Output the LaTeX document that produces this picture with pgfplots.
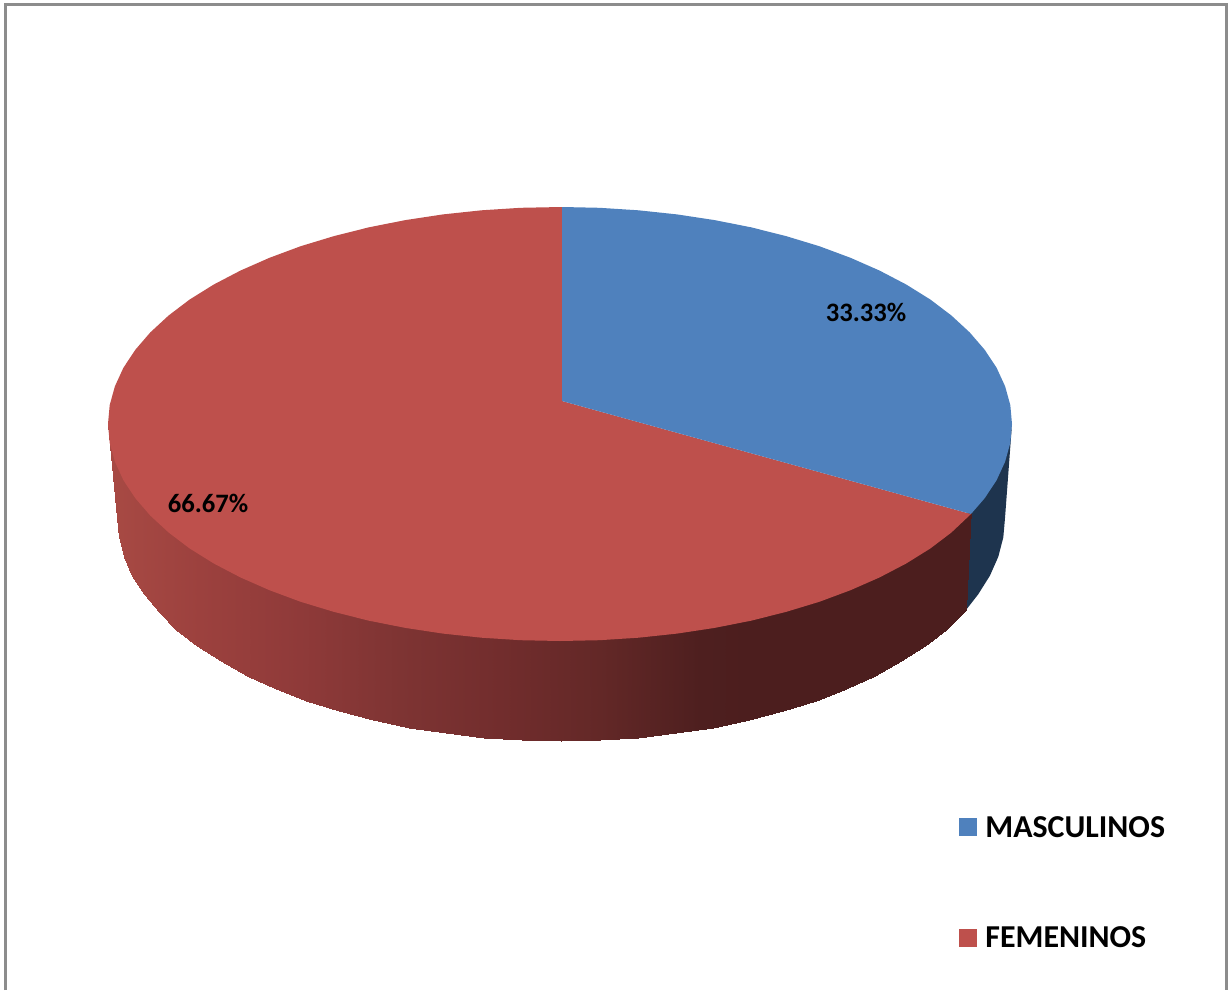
\documentclass[border=0pt]{standalone}
\usepackage{pgfplots}
\pgfplotsset{compat=1.18}
\usepackage{fontspec}
\setmainfont{Carlito}
\definecolor{blueT}{RGB}{79,129,189}
\definecolor{redT}{RGB}{190,80,76}
\definecolor{blueS}{RGB}{30,52,78}
\definecolor{frameC}{RGB}{140,140,140}
\begin{document}
\begin{tikzpicture}
\useasboundingbox (0,0) rectangle (615pt,495pt);
\begin{axis}[at={(0,0)},anchor=south west,scale only axis,width=615pt,height=495pt,
  xmin=0,xmax=1230,ymin=0,ymax=990,y dir=reverse,hide axis,clip=true,
  colormap={side}{rgb255(108)=(168,74,68) rgb255(200)=(156,65,62) rgb255(300)=(143,58,57) rgb255(400)=(126,52,51) rgb255(500)=(114,45,45) rgb255(600)=(99,40,39) rgb255(700)=(78,31,31) rgb255(750)=(76,30,30) rgb255(971)=(76,30,30)},
  point meta min=108,point meta max=971]
% side of the blue slice
\addplot[fill=blueS,draw=none] coordinates {(1012,424)(1010.3,436.9)(1005.1,455.7)(996.6,474.2)(984.7,492.2)(971,508)(966,610)(978.2,594.3)(989.9,575.7)(998.3,556.7)(1003.3,537.4)(1005,518)};
% side of the red slice: colour follows x; the upper row runs under the top face
\addplot[surf,shader=interp,mesh/rows=2,mesh/ordering=colwise,point meta=x] coordinates {
(971,508)(966,610)
(951.4,526.5)(945.5,629.5)
(930.3,542.5)(924.7,645.9)
(906.2,557.5)(901.1,661.3)
(879.6,571.4)(875,675.7)
(850.5,584.2)(846.4,688.8)
(819.3,595.8)(815.7,700.7)
(786,605.9)(783,711.1)
(751,614.7)(748.6,720.1)
(714.6,621.9)(712.8,727.6)
(677,627.6)(675.9,733.4)
(638.5,631.7)(638.1,737.6)
(599.4,634.2)(599.7,740.2)
(560,635)(561,741)
(520.6,634.2)(522.3,740.2)
(481.5,631.7)(483.9,737.6)
(443,627.6)(446.1,733.4)
(405.4,621.9)(409.2,727.6)
(369,614.7)(373.4,720.1)
(334,605.9)(339,711.1)
(300.7,595.8)(306.3,700.7)
(269.5,584.2)(275.6,688.8)
(240.4,571.4)(247,675.7)
(213.8,557.5)(220.9,661.3)
(189.7,542.5)(197.3,645.9)
(168.6,526.5)(176.5,629.5)
(150.4,509.7)(158.6,612.2)
(135.3,492.2)(143.8,594.3)
(123.4,474.2)(132.1,575.7)
(114.9,455.7)(123.7,556.7)
(109.7,436.9)(118.7,537.4)
(108,424)(117,518)
};
% top face, red
\addplot[fill=redT,draw=none] coordinates {(562,401)(971,514)(951.4,532.5)(930.3,548.5)(906.2,563.5)(879.6,577.4)(850.5,590.2)(819.3,601.8)(786,611.9)(751,620.7)(714.6,627.9)(677,633.6)(638.5,637.7)(599.4,640.2)(560,641)(520.6,640.2)(481.5,637.7)(443,633.6)(405.4,627.9)(369,620.7)(334,611.9)(300.7,601.8)(269.5,590.2)(240.4,577.4)(213.8,563.5)(189.7,548.5)(168.6,532.5)(150.4,515.7)(135.3,498.2)(123.4,480.2)(114.9,461.7)(109.7,442.9)(108,424)(109.7,405.1)(114.9,386.3)(123.4,367.8)(135.3,349.8)(150.4,332.3)(168.6,315.5)(189.7,299.5)(213.8,284.5)(240.4,270.6)(269.5,257.8)(300.7,246.2)(334,236.1)(369,227.3)(405.4,220.1)(443,214.4)(481.5,210.3)(520.6,207.8)(562,207)};
% top face, blue
\addplot[fill=blueT,draw=none] coordinates {(562,401)(562,207)(599.4,207.8)(638.5,210.3)(677,214.4)(714.6,220.1)(751,227.3)(786,236.1)(819.3,246.2)(850.5,257.8)(879.6,270.6)(906.2,284.5)(930.3,299.5)(951.4,315.5)(969.6,332.3)(984.7,349.8)(996.6,367.8)(1005.1,386.3)(1010.3,405.1)(1012,424)(1010.3,442.9)(1005.1,461.7)(996.6,480.2)(984.7,498.2)(971,514)};
% legend keys
\addplot[fill=blueT,draw=none] coordinates {(959,818)(977,818)(977,836)(959,836)};
\addplot[fill=redT,draw=none] coordinates {(959,929)(977,929)(977,947)(959,947)};
% frame
\addplot[draw=frameC,line width=1.5pt] coordinates {(5,990)(5,4.5)(1226,4.5)(1226,990)};
% text
\node[anchor=base,inner sep=0pt,font=\fontsize{13.3}{16}\selectfont\bfseries] at (axis cs:866,321) {33.33\%};
\node[anchor=base,inner sep=0pt,font=\fontsize{13.3}{16}\selectfont\bfseries] at (axis cs:208,512.5) {66.67\%};
\node[anchor=base west,inner sep=0pt,font=\fontsize{15.95}{18}\selectfont\bfseries] at (axis cs:985,837) {MASCULINOS};
\node[anchor=base west,inner sep=0pt,font=\fontsize{15.95}{18}\selectfont\bfseries] at (axis cs:985,947.5) {FEMENINOS};
\end{axis}
\end{tikzpicture}
\end{document}
